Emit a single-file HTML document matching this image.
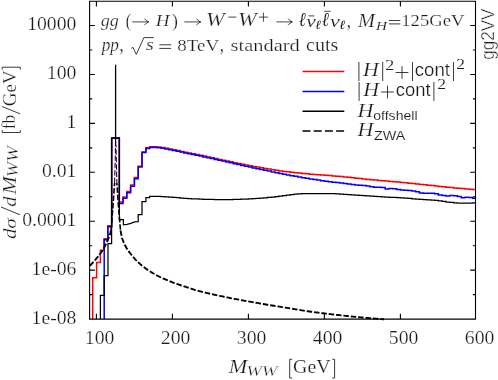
<!DOCTYPE html>
<html><head><meta charset="utf-8"><title>gg2VV plot</title>
<style>
html,body{margin:0;padding:0;background:#fff;}
body{width:498px;height:380px;overflow:hidden;font-family:"Liberation Serif",serif;}
svg{display:block;will-change:transform;}
text{fill:#1a1a1a;stroke:#fff;stroke-width:0.24px;}
</style></head><body>
<svg width="498" height="380" viewBox="0 0 498 380">
<rect width="498" height="380" fill="#fff"/>
<g fill="none" stroke-linejoin="miter" stroke-linecap="butt">
<path d="M92.70 319.10 L92.70 319.10 L92.70 277.70 L96.60 277.70 L96.60 262.40 L100.40 262.40 L100.40 250.20 L104.10 250.20 L104.10 238.80 L107.90 238.80 L107.90 225.80 L111.68 225.80 L111.68 138.10 L119.32 138.10 L119.32 202.00 L123.00 202.00 L123.00 197.00 L126.80 197.00 L126.80 191.50 L130.60 191.50 L130.60 185.00 L134.40 185.00 L134.40 177.60 L138.20 177.60 L138.20 166.20 L142.00 166.20 L142.00 151.90 L145.90 151.90 L145.90 147.80 L149.60 147.80 L149.60 147.00 L149.60 146.87 L153.40 146.87 L153.40 146.81 L157.20 146.81 L157.20 147.10 L161.00 147.10 L161.00 147.60 L164.80 147.60 L164.80 148.34 L168.60 148.34 L168.60 149.10 L172.40 149.10 L172.40 149.85 L176.20 149.85 L176.20 150.62 L180.00 150.62 L180.00 151.38 L183.80 151.38 L183.80 152.13 L187.60 152.13 L187.60 152.90 L191.40 152.90 L191.40 153.68 L195.20 153.68 L195.20 154.48 L199.00 154.48 L199.00 155.29 L202.80 155.29 L202.80 156.10 L206.60 156.10 L206.60 156.92 L210.40 156.92 L210.40 157.75 L214.20 157.75 L214.20 158.57 L218.00 158.57 L218.00 159.38 L221.80 159.38 L221.80 160.19 L225.60 160.19 L225.60 161.02 L229.40 161.02 L229.40 161.84 L233.20 161.84 L233.20 162.66 L237.00 162.66 L237.00 163.47 L240.80 163.47 L240.80 164.26 L244.60 164.26 L244.60 165.03 L248.40 165.03 L248.40 165.76 L252.20 165.76 L252.20 166.45 L256.00 166.45 L256.00 167.10 L259.80 167.10 L259.80 167.74 L263.60 167.74 L263.60 168.39 L267.40 168.39 L267.40 169.05 L271.20 169.05 L271.20 169.71 L275.00 169.71 L275.00 170.34 L278.80 170.34 L278.80 170.90 L282.60 170.90 L282.60 171.39 L286.40 171.39 L286.40 171.85 L290.20 171.85 L290.20 172.28 L294.00 172.28 L294.00 172.70 L297.80 172.70 L297.80 173.10 L301.60 173.10 L301.60 173.49 L305.40 173.49 L305.40 173.86 L309.20 173.86 L309.20 174.20 L313.00 174.20 L313.00 174.51 L316.80 174.51 L316.80 174.79 L320.60 174.79 L320.60 175.07 L324.40 175.07 L324.40 175.34 L328.20 175.34 L328.20 175.61 L332.00 175.61 L332.00 175.90 L335.80 175.90 L335.80 176.20 L339.60 176.20 L339.60 176.54 L343.40 176.54 L343.40 176.91 L347.20 176.91 L347.20 177.31 L351.00 177.31 L351.00 177.74 L354.80 177.74 L354.80 178.17 L358.60 178.17 L358.60 178.60 L362.40 178.60 L362.40 179.02 L366.20 179.02 L366.20 179.41 L370.00 179.41 L370.00 179.78 L373.80 179.78 L373.80 180.12 L377.60 180.12 L377.60 180.45 L381.40 180.45 L381.40 180.76 L385.20 180.76 L385.20 181.08 L389.00 181.08 L389.00 181.39 L392.80 181.39 L392.80 181.72 L396.60 181.72 L396.60 182.06 L400.40 182.06 L400.40 182.42 L404.20 182.42 L404.20 182.79 L408.00 182.79 L408.00 183.18 L411.80 183.18 L411.80 183.58 L415.60 183.58 L415.60 183.98 L419.40 183.98 L419.40 184.38 L423.20 184.38 L423.20 184.79 L427.00 184.79 L427.00 185.19 L430.80 185.19 L430.80 185.58 L434.60 185.58 L434.60 185.99 L438.40 185.99 L438.40 186.40 L442.20 186.40 L442.20 186.81 L446.00 186.81 L446.00 187.20 L449.80 187.20 L449.80 187.57 L453.60 187.57 L453.60 187.92 L457.40 187.92 L457.40 188.27 L461.20 188.27 L461.20 188.60 L465.00 188.60 L465.00 188.92 L468.80 188.92 L468.80 189.23 L472.60 189.23 L472.60 189.49 L475.50 189.49" stroke="#ff0000" stroke-width="1.5"/>
<path d="M104.20 319.10 L104.20 319.10 L104.20 239.70 L107.90 239.70 L107.90 226.80 L111.68 226.80 L111.68 138.10 L119.32 138.10 L119.32 203.40 L123.00 203.40 L123.00 198.30 L126.80 198.30 L126.80 192.80 L130.60 192.80 L130.60 186.20 L134.40 186.20 L134.40 178.70 L138.20 178.70 L138.20 166.90 L142.00 166.90 L142.00 152.60 L145.90 152.60 L145.90 148.50 L149.60 148.50 L149.60 147.70 L149.60 147.57 L153.40 147.57 L153.40 147.51 L157.20 147.51 L157.20 147.80 L161.00 147.80 L161.00 148.30 L164.80 148.30 L164.80 149.04 L168.60 149.04 L168.60 149.80 L172.40 149.80 L172.40 150.54 L176.20 150.54 L176.20 151.31 L180.00 151.31 L180.00 152.09 L183.80 152.09 L183.80 152.89 L187.60 152.89 L187.60 153.69 L191.40 153.69 L191.40 154.49 L195.20 154.49 L195.20 155.28 L199.00 155.28 L199.00 156.09 L202.80 156.09 L202.80 156.92 L206.60 156.92 L206.60 157.75 L210.40 157.75 L210.40 158.59 L214.20 158.59 L214.20 159.43 L218.00 159.43 L218.00 160.28 L221.80 160.28 L221.80 161.12 L225.60 161.12 L225.60 161.98 L229.40 161.98 L229.40 162.83 L233.20 162.83 L233.20 163.69 L237.00 163.69 L237.00 164.54 L240.80 164.54 L240.80 165.39 L244.60 165.39 L244.60 166.23 L248.40 166.23 L248.40 167.07 L252.20 167.07 L252.20 167.89 L256.00 167.89 L256.00 168.70 L259.80 168.70 L259.80 169.51 L263.60 169.51 L263.60 170.30 L267.40 170.30 L267.40 171.10 L271.20 171.10 L271.20 171.89 L275.00 171.89 L275.00 172.67 L278.80 172.67 L278.80 173.44 L282.60 173.44 L282.60 174.19 L286.40 174.19 L286.40 174.94 L290.20 174.94 L290.20 175.66 L294.00 175.66 L294.00 176.36 L297.80 176.36 L297.80 177.05 L301.60 177.05 L301.60 177.72 L305.40 177.72 L305.40 178.36 L309.20 178.36 L309.20 178.97 L313.00 178.97 L313.00 179.56 L316.80 179.56 L316.80 180.12 L320.60 180.12 L320.60 180.66 L324.40 180.66 L324.40 181.18 L328.20 181.18 L328.20 181.67 L332.00 181.67 L332.00 182.15 L335.80 182.15 L335.80 182.62 L339.60 182.62 L339.60 183.08 L343.40 183.08 L343.40 183.55 L347.20 183.55 L347.20 184.01 L351.00 184.01 L351.00 184.46 L354.80 184.46 L354.80 184.88 L358.60 184.88 L358.60 185.23 L362.40 185.23 L362.40 185.58 L366.20 185.58 L366.20 186.02 L370.00 186.02 L370.00 186.84 L373.80 186.84 L373.80 187.33 L377.60 187.33 L377.60 187.35 L381.40 187.35 L381.40 187.44 L385.20 187.44 L385.20 189.03 L389.00 189.03 L389.00 188.42 L392.80 188.42 L392.80 188.85 L396.60 188.85 L396.60 189.49 L400.40 189.49 L400.40 189.94 L404.20 189.94 L404.20 190.26 L408.00 190.26 L408.00 190.57 L411.80 190.57 L411.80 190.98 L415.60 190.98 L415.60 191.63 L419.40 191.63 L419.40 193.02 L423.20 193.02 L423.20 193.16 L427.00 193.16 L427.00 193.20 L430.80 193.20 L430.80 193.27 L434.60 193.27 L434.60 193.67 L438.40 193.67 L438.40 195.04 L442.20 195.04 L442.20 195.60 L446.00 195.60 L446.00 195.88 L449.80 195.88 L449.80 195.41 L453.60 195.41 L453.60 195.63 L457.40 195.63 L457.40 196.52 L461.20 196.52 L461.20 197.65 L465.00 197.65 L465.00 197.30 L468.80 197.30 L468.80 197.57 L472.60 197.57 L472.60 198.27 L475.50 198.27" stroke="#0000ff" stroke-width="1.5"/>
<path d="M100.40 319.10 L100.40 319.10 L100.40 295.40 L104.20 295.40 L104.20 275.60 L108.00 275.60 L108.00 243.60 L111.60 243.60 L111.60 138.10 L119.40 138.10 L119.40 219.50 L123.40 219.50 L123.40 224.80 L127.00 224.30 L130.80 223.30 L134.60 221.90 L138.20 221.70 L138.20 214.70 L142.00 214.70 L142.00 201.70 L145.90 201.70 L145.90 197.70 L149.60 197.70 L149.60 196.40 L149.60 196.33 L153.40 196.33 L153.40 196.32 L157.20 196.32 L157.20 196.47 L161.00 196.47 L161.00 196.66 L164.80 196.66 L164.80 196.90 L168.60 196.90 L168.60 197.18 L172.40 197.18 L172.40 197.45 L176.20 197.45 L176.20 197.72 L180.00 197.72 L180.00 198.02 L183.80 198.02 L183.80 198.31 L187.60 198.31 L187.60 198.59 L191.40 198.59 L191.40 198.82 L195.20 198.82 L195.20 198.99 L199.00 198.99 L199.00 199.14 L202.80 199.14 L202.80 199.27 L206.60 199.27 L206.60 199.37 L210.40 199.37 L210.40 199.45 L214.20 199.45 L214.20 199.52 L218.00 199.52 L218.00 199.58 L221.80 199.58 L221.80 199.60 L225.60 199.60 L225.60 199.58 L229.40 199.58 L229.40 199.52 L233.20 199.52 L233.20 199.43 L237.00 199.43 L237.00 199.33 L240.80 199.33 L240.80 199.21 L244.60 199.21 L244.60 199.06 L248.40 199.06 L248.40 198.86 L252.20 198.86 L252.20 198.63 L256.00 198.63 L256.00 198.38 L259.80 198.38 L259.80 198.12 L263.60 198.12 L263.60 197.83 L267.40 197.83 L267.40 197.48 L271.20 197.48 L271.20 197.10 L275.00 197.10 L275.00 196.68 L278.80 196.68 L278.80 196.20 L282.60 196.20 L282.60 195.70 L286.40 195.70 L286.40 195.17 L290.20 195.17 L290.20 194.57 L294.00 194.57 L294.00 194.07 L297.80 194.07 L297.80 193.81 L301.60 193.81 L301.60 193.64 L305.40 193.64 L305.40 193.53 L309.20 193.53 L309.20 193.50 L313.00 193.50 L313.00 193.50 L316.80 193.50 L316.80 193.50 L320.60 193.50 L320.60 193.50 L324.40 193.50 L324.40 193.53 L328.20 193.53 L328.20 193.59 L332.00 193.59 L332.00 193.67 L335.80 193.67 L335.80 193.81 L339.60 193.81 L339.60 194.06 L343.40 194.06 L343.40 194.32 L347.20 194.32 L347.20 194.58 L351.00 194.58 L351.00 194.86 L354.80 194.86 L354.80 195.14 L358.60 195.14 L358.60 195.43 L362.40 195.43 L362.40 195.71 L366.20 195.71 L366.20 195.98 L370.00 195.98 L370.00 196.22 L373.80 196.22 L373.80 196.44 L377.60 196.44 L377.60 196.65 L381.40 196.65 L381.40 196.86 L385.20 196.86 L385.20 197.06 L389.00 197.06 L389.00 197.27 L392.80 197.27 L392.80 197.48 L396.60 197.48 L396.60 197.71 L400.40 197.71 L400.40 197.95 L404.20 197.95 L404.20 198.21 L408.00 198.21 L408.00 198.48 L411.80 198.48 L411.80 198.75 L415.60 198.75 L415.60 199.04 L419.40 199.04 L419.40 199.33 L423.20 199.33 L423.20 199.62 L427.00 199.62 L427.00 199.92 L430.80 199.92 L430.80 200.20 L434.60 200.20 L434.60 200.48 L438.40 200.48 L438.40 200.83 L442.20 200.83 L442.20 201.39 L446.00 201.39 L446.00 202.02 L449.80 202.02 L449.80 202.48 L453.60 202.48 L453.60 202.85 L457.40 202.85 L457.40 203.05 L461.20 203.05 L461.20 203.18 L465.00 203.18 L465.00 203.19 L468.80 203.19 L468.80 203.08 L472.60 203.08 L472.60 202.90 L475.50 202.90" stroke="#000" stroke-width="1.25"/>
<path d="M111.00 230.50 L112.30 215.00 L113.40 200.00 L114.60 183.00" stroke="#000" stroke-width="1.6" stroke-dasharray="5.5 1.9"/>
<path d="M116.90 183.00 L118.00 200.00 L119.20 215.00 L120.50 230.50" stroke="#000" stroke-width="1.6" stroke-dasharray="5.5 1.9" stroke-dashoffset="3"/>
<path d="M114.60 183.00 L115.20 160.00 L115.50 145.00" stroke="#000" stroke-width="1.0" stroke-dasharray="5.5 1.9"/>
<path d="M116.00 145.00 L116.30 160.00 L116.90 183.00" stroke="#000" stroke-width="1.0" stroke-dasharray="5.5 1.9" stroke-dashoffset="3"/>
<path d="M89.70 265.90 L90.50 265.09 L91.30 264.27 L92.10 263.42 L92.90 262.55 L93.70 261.66 L94.50 260.76 L95.30 259.84 L96.10 258.90 L96.90 257.94 L97.70 256.96 L98.50 255.95 L99.30 254.90 L100.10 253.83 L100.90 252.73 L101.70 251.59 L102.50 250.39 L103.30 249.11 L104.10 247.71 L104.90 246.19 L105.70 244.57 L106.50 242.86 L107.30 241.10 L108.10 239.33 L108.90 237.46 L109.70 235.30 L110.50 232.53 L111.00 230.50" stroke="#000" stroke-width="1.85" stroke-dasharray="5.5 1.9"/>
<path d="M120.50 230.50 L122.00 238.00 L123.50 242.00 L125.00 245.29 L126.50 248.00 L128.00 250.29 L129.50 252.34 L131.00 254.30 L132.50 256.17 L134.00 257.92 L135.50 259.56 L137.00 261.09 L138.50 262.54 L140.00 263.90 L141.50 265.19 L143.00 266.41 L144.50 267.57 L146.00 268.67 L147.50 269.72 L149.00 270.72 L150.50 271.68 L152.00 272.60 L153.50 273.49 L155.00 274.35 L156.50 275.19 L158.00 275.99 L159.50 276.75 L161.00 277.48 L162.50 278.16 L164.00 278.82 L165.50 279.46 L167.00 280.09 L168.50 280.71 L170.00 281.32 L171.50 281.93 L173.00 282.53 L174.50 283.11 L176.00 283.67 L177.50 284.21 L179.00 284.74 L180.50 285.25 L182.00 285.75 L183.50 286.24 L185.00 286.72 L186.50 287.20 L188.00 287.67 L189.50 288.14 L191.00 288.61 L192.50 289.08 L194.00 289.55 L195.50 290.01 L197.00 290.45 L198.50 290.88 L200.00 291.29 L201.50 291.68 L203.00 292.06 L204.50 292.43 L206.00 292.79 L207.50 293.14 L209.00 293.49 L210.50 293.83 L212.00 294.17 L213.50 294.51 L215.00 294.85 L216.50 295.18 L218.00 295.51 L219.50 295.83 L221.00 296.15 L222.50 296.47 L224.00 296.78 L225.50 297.09 L227.00 297.40 L228.50 297.70 L230.00 298.00 L231.50 298.29 L233.00 298.58 L234.50 298.87 L236.00 299.15 L237.50 299.43 L239.00 299.71 L240.50 299.99 L242.00 300.27 L243.50 300.55 L245.00 300.83 L246.50 301.11 L248.00 301.38 L249.50 301.65 L251.00 301.92 L252.50 302.19 L254.00 302.45 L255.50 302.71 L257.00 302.96 L258.50 303.21 L260.00 303.47 L261.50 303.72 L263.00 303.97 L264.50 304.22 L266.00 304.47 L267.50 304.72 L269.00 304.97 L270.50 305.22 L272.00 305.47 L273.50 305.72 L275.00 305.96 L276.50 306.21 L278.00 306.46 L279.50 306.70 L281.00 306.95 L282.50 307.19 L284.00 307.43 L285.50 307.68 L287.00 307.92 L288.50 308.16 L290.00 308.40 L291.50 308.64 L293.00 308.88 L294.50 309.12 L296.00 309.36 L297.50 309.60 L299.00 309.85 L300.50 310.09 L302.00 310.34 L303.50 310.58 L305.00 310.82 L306.50 311.05 L308.00 311.28 L309.50 311.50 L311.00 311.71 L312.50 311.92 L314.00 312.12 L315.50 312.32 L317.00 312.51 L318.50 312.70 L320.00 312.89 L321.50 313.07 L323.00 313.26 L324.50 313.44 L326.00 313.62 L327.50 313.80 L329.00 313.99 L330.50 314.17 L332.00 314.34 L333.50 314.52 L335.00 314.69 L336.50 314.86 L338.00 315.03 L339.50 315.20 L341.00 315.37 L342.50 315.53 L344.00 315.69 L345.50 315.85 L347.00 316.01 L348.50 316.17 L350.00 316.32 L351.50 316.47 L353.00 316.63 L354.50 316.78 L356.00 316.92 L357.50 317.07 L359.00 317.21 L360.50 317.35 L362.00 317.48 L363.50 317.62 L365.00 317.75 L366.50 317.89 L368.00 318.02 L369.50 318.15 L371.00 318.27 L372.50 318.40 L374.00 318.52 L375.50 318.65 L377.00 318.77 L378.50 318.88 L380.00 319.00 L381.50 319.11 L383.00 319.23 L384.00 319.30" stroke="#000" stroke-width="1.85" stroke-dasharray="5.5 1.9"/>
<path d="M115.6 64.7 V146" stroke="#000" stroke-width="1.3"/>
</g>
<path d="M89.60 1.20 H475.50 V319.10 H89.60 Z M89.60 319.10 h5.30 M475.50 319.10 h-5.30 M89.60 294.63 h2.60 M475.50 294.63 h-2.60 M89.60 270.17 h5.30 M475.50 270.17 h-5.30 M89.60 245.70 h2.60 M475.50 245.70 h-2.60 M89.60 221.23 h5.30 M475.50 221.23 h-5.30 M89.60 196.77 h2.60 M475.50 196.77 h-2.60 M89.60 172.30 h5.30 M475.50 172.30 h-5.30 M89.60 147.83 h2.60 M475.50 147.83 h-2.60 M89.60 123.36 h5.30 M475.50 123.36 h-5.30 M89.60 98.90 h2.60 M475.50 98.90 h-2.60 M89.60 74.43 h5.30 M475.50 74.43 h-5.30 M89.60 49.96 h2.60 M475.50 49.96 h-2.60 M89.60 25.50 h5.30 M475.50 25.50 h-5.30 M96.40 319.10 v-5.30 M96.40 1.20 v5.30 M172.40 319.10 v-5.30 M172.40 1.20 v5.30 M248.40 319.10 v-5.30 M248.40 1.20 v5.30 M324.40 319.10 v-5.30 M324.40 1.20 v5.30 M400.40 319.10 v-5.30 M400.40 1.20 v5.30" fill="none" stroke="#000" stroke-width="1.1"/>
<path d="M302.5 71.6 H344.3" stroke="#f00" stroke-width="1.5"/>
<path d="M302.5 91.4 H344.3" stroke="#00f" stroke-width="1.5"/>
<path d="M302.5 111.2 H344.3" stroke="#000" stroke-width="1.5"/>
<path d="M302.5 131.1 H344.3" stroke="#000" stroke-width="1.5" stroke-dasharray="8 3.2"/>
<text x="76.40" y="30.45" text-anchor="end" style="font-family:'Liberation Serif',serif;font-size:19.70px;stroke-width:0.24px">10000</text>
<text x="76.40" y="79.38" text-anchor="end" style="font-family:'Liberation Serif',serif;font-size:19.70px;stroke-width:0.24px">100</text>
<text x="76.40" y="128.31" text-anchor="end" style="font-family:'Liberation Serif',serif;font-size:19.70px;stroke-width:0.24px">1</text>
<text x="76.40" y="177.25" text-anchor="end" style="font-family:'Liberation Serif',serif;font-size:19.70px;stroke-width:0.24px">0.01</text>
<text x="76.40" y="226.18" text-anchor="end" style="font-family:'Liberation Serif',serif;font-size:19.70px;stroke-width:0.24px">0.0001</text>
<text x="76.40" y="275.12" text-anchor="end" style="font-family:'Liberation Serif',serif;font-size:19.70px;stroke-width:0.24px">1e-06</text>
<text x="76.40" y="324.05" text-anchor="end" style="font-family:'Liberation Serif',serif;font-size:19.70px;stroke-width:0.24px">1e-08</text>
<text x="99.60" y="344.40" text-anchor="middle" style="font-family:'Liberation Serif',serif;font-size:19.70px;stroke-width:0.24px">100</text>
<text x="175.60" y="344.40" text-anchor="middle" style="font-family:'Liberation Serif',serif;font-size:19.70px;stroke-width:0.24px">200</text>
<text x="251.60" y="344.40" text-anchor="middle" style="font-family:'Liberation Serif',serif;font-size:19.70px;stroke-width:0.24px">300</text>
<text x="327.60" y="344.40" text-anchor="middle" style="font-family:'Liberation Serif',serif;font-size:19.70px;stroke-width:0.24px">400</text>
<text x="403.60" y="344.40" text-anchor="middle" style="font-family:'Liberation Serif',serif;font-size:19.70px;stroke-width:0.24px">500</text>
<text x="479.60" y="344.40" text-anchor="middle" style="font-family:'Liberation Serif',serif;font-size:19.70px;stroke-width:0.24px">600</text>
<text transform="translate(100.75 26.40) scale(1.054 1)" style="font-family:'Liberation Serif',serif;font-size:17.16px;font-style:italic;stroke-width:0.24px">gg</text>
<text transform="translate(125.63 26.90) scale(0.800 1)" style="font-family:'Liberation Serif',serif;font-size:19.88px;stroke-width:0.24px">(</text>
<text transform="translate(155.76 26.30) scale(1.097 1)" style="font-family:'Liberation Serif',serif;font-size:17.37px;font-style:italic;stroke-width:0.24px">H</text>
<text transform="translate(172.08 26.90) scale(0.894 1)" style="font-family:'Liberation Serif',serif;font-size:19.88px;stroke-width:0.24px">)</text>
<text transform="translate(205.95 26.25) scale(1.197 1)" style="font-family:'Liberation Serif',serif;font-size:18.73px;font-style:italic;stroke-width:0.24px">W</text>
<text transform="translate(237.95 26.25) scale(1.197 1)" style="font-family:'Liberation Serif',serif;font-size:18.73px;font-style:italic;stroke-width:0.24px">W</text>
<text transform="translate(298.76 26.25) scale(0.865 1)" style="font-family:'Liberation Serif',serif;font-size:19.48px;font-style:italic;stroke-width:0.08px">ℓ</text>
<text transform="translate(306.14 26.50) scale(1.240 1)" style="font-family:'Liberation Serif',serif;font-size:17.45px;font-style:italic;stroke-width:0.15px">ν</text>
<text transform="translate(315.13 28.70) scale(1.102 1)" style="font-family:'Liberation Serif',serif;font-size:12.48px;font-style:italic;stroke-width:0.00px">ℓ</text>
<text transform="translate(321.66 26.25) scale(0.888 1)" style="font-family:'Liberation Serif',serif;font-size:19.48px;font-style:italic;stroke-width:0.08px">ℓ</text>
<text transform="translate(330.04 26.50) scale(1.280 1)" style="font-family:'Liberation Serif',serif;font-size:17.45px;font-style:italic;stroke-width:0.15px">ν</text>
<text transform="translate(339.23 28.70) scale(1.176 1)" style="font-family:'Liberation Serif',serif;font-size:12.48px;font-style:italic;stroke-width:0.00px">ℓ</text>
<text transform="translate(346.85 26.55) scale(0.800 1)" style="font-family:'Liberation Serif',serif;font-size:21.29px;stroke-width:0.24px">,</text>
<text transform="translate(357.98 26.50) scale(1.138 1)" style="font-family:'Liberation Serif',serif;font-size:17.91px;font-style:italic;stroke-width:0.24px">M</text>
<text transform="translate(375.93 29.70) scale(1.245 1)" style="font-family:'Liberation Serif',serif;font-size:12.24px;font-style:italic;stroke-width:0.12px">H</text>
<text transform="translate(401.25 26.25) scale(1.090 1)" style="font-family:'Liberation Serif',serif;font-size:17.12px;stroke-width:0.24px">125GeV</text>
<path d="M132.30 21.90 H148.60 M144.50 18.60 q1.6 2.5 4.3 3.3 q-2.7 0.8 -4.3 3.3" fill="none" stroke="#1a1a1a" stroke-width="0.80"/>
<path d="M184.30 21.90 H200.60 M196.50 18.60 q1.6 2.5 4.3 3.3 q-2.7 0.8 -4.3 3.3" fill="none" stroke="#1a1a1a" stroke-width="0.80"/>
<path d="M276.40 21.90 H292.20 M288.10 18.60 q1.6 2.5 4.3 3.3 q-2.7 0.8 -4.3 3.3" fill="none" stroke="#1a1a1a" stroke-width="0.80"/>
<path d="M228.3 17.1 H236.3" fill="none" stroke="#1a1a1a" stroke-width="0.80"/>
<path d="M258.90 17.10 h9.00 M263.40 12.60 v9.00" fill="none" stroke="#1a1a1a" stroke-width="0.80"/>
<path d="M308.4 15.9 H314.4" fill="none" stroke="#1a1a1a" stroke-width="0.80"/>
<path d="M324.2 11.3 H330.6" fill="none" stroke="#1a1a1a" stroke-width="0.80"/>
<path d="M388.90 20.50 H400.30 M388.90 23.90 H400.30" fill="none" stroke="#1a1a1a" stroke-width="0.85"/>
<text transform="translate(101.65 50.65) scale(0.974 1)" style="font-family:'Liberation Serif',serif;font-size:17.84px;font-style:italic;stroke-width:0.24px">pp</text>
<text transform="translate(119.55 51.00) scale(0.818 1)" style="font-family:'Liberation Serif',serif;font-size:20.63px;stroke-width:0.24px">,</text>
<text transform="translate(145.75 50.45) scale(1.328 1)" style="font-family:'Liberation Serif',serif;font-size:15.90px;font-style:italic;stroke-width:0.24px">s</text>
<text transform="translate(177.35 50.65) scale(1.157 1)" style="font-family:'Liberation Serif',serif;font-size:16.37px;stroke-width:0.24px">8TeV</text>
<text transform="translate(219.85 51.00) scale(0.818 1)" style="font-family:'Liberation Serif',serif;font-size:20.63px;stroke-width:0.24px">,</text>
<text transform="translate(230.55 50.65) scale(1.212 1)" style="font-family:'Liberation Serif',serif;font-size:16.86px;stroke-width:0.24px">standard</text>
<text transform="translate(305.95 50.65) scale(1.114 1)" style="font-family:'Liberation Serif',serif;font-size:18.08px;stroke-width:0.24px">cuts</text>
<path d="M131.3 48.3 l1.7 -0.9 l3.3 7.0 l7.6 -16.8 H153.9" fill="none" stroke="#1a1a1a" stroke-width="0.85"/>
<path d="M159.30 44.80 H171.20 M159.30 48.40 H171.20" fill="none" stroke="#1a1a1a" stroke-width="0.85"/>
<text transform="translate(363.07 76.40) scale(1.137 1)" style="font-family:'Liberation Serif',serif;font-size:19.26px;font-style:italic;stroke-width:0.24px">H</text>
<text transform="translate(385.31 69.70) scale(1.267 1)" style="font-family:'Liberation Serif',serif;font-size:14.25px;stroke-width:0.12px">2</text>
<text transform="translate(414.75 76.35) scale(1.044 1)" style="font-family:'Liberation Sans',sans-serif;font-size:17.83px;stroke-width:0.24px">cont</text>
<text transform="translate(456.21 69.40) scale(1.210 1)" style="font-family:'Liberation Serif',serif;font-size:14.50px;stroke-width:0.12px">2</text>
<text transform="translate(363.17 96.20) scale(1.137 1)" style="font-family:'Liberation Serif',serif;font-size:19.26px;font-style:italic;stroke-width:0.24px">H</text>
<text transform="translate(395.75 96.25) scale(1.035 1)" style="font-family:'Liberation Sans',sans-serif;font-size:17.83px;stroke-width:0.24px">cont</text>
<text transform="translate(437.31 89.40) scale(1.210 1)" style="font-family:'Liberation Serif',serif;font-size:14.50px;stroke-width:0.12px">2</text>
<text transform="translate(357.57 116.50) scale(1.128 1)" style="font-family:'Liberation Serif',serif;font-size:19.50px;font-style:italic;stroke-width:0.24px">H</text>
<text transform="translate(373.20 119.90) scale(1.055 1)" style="font-family:'Liberation Sans',sans-serif;font-size:13.35px;stroke-width:0.12px">offshell</text>
<text transform="translate(357.57 136.30) scale(1.128 1)" style="font-family:'Liberation Serif',serif;font-size:19.50px;font-style:italic;stroke-width:0.24px">H</text>
<text transform="translate(373.90 139.80) scale(1.119 1)" style="font-family:'Liberation Sans',sans-serif;font-size:12.80px;stroke-width:0.12px">ZWA</text>
<path d="M358.90 62.00 V81.00" fill="none" stroke="#1a1a1a" stroke-width="0.85"/>
<path d="M382.70 62.00 V81.00" fill="none" stroke="#1a1a1a" stroke-width="0.85"/>
<path d="M412.50 62.00 V81.00" fill="none" stroke="#1a1a1a" stroke-width="0.85"/>
<path d="M453.50 62.00 V81.00" fill="none" stroke="#1a1a1a" stroke-width="0.85"/>
<path d="M395.60 72.50 h12.80 M402.00 66.10 v12.80" fill="none" stroke="#1a1a1a" stroke-width="0.85"/>
<path d="M359.10 81.90 V100.90" fill="none" stroke="#1a1a1a" stroke-width="0.85"/>
<path d="M433.90 81.90 V100.90" fill="none" stroke="#1a1a1a" stroke-width="0.85"/>
<path d="M381.10 92.00 h12.80 M387.50 85.60 v12.80" fill="none" stroke="#1a1a1a" stroke-width="0.85"/>
<text transform="translate(228.69 372.90) scale(1.135 1)" style="font-family:'Liberation Serif',serif;font-size:19.62px;font-style:italic;stroke-width:0.24px">M</text>
<text transform="translate(246.13 375.75) scale(1.286 1)" style="font-family:'Liberation Serif',serif;font-size:14.89px;font-style:italic;stroke-width:0.30px">W</text>
<text transform="translate(261.73 375.75) scale(1.274 1)" style="font-family:'Liberation Serif',serif;font-size:14.89px;font-style:italic;stroke-width:0.30px">W</text>
<text transform="translate(293.05 372.95) scale(1.038 1)" style="font-family:'Liberation Serif',serif;font-size:19.13px;stroke-width:0.24px">GeV</text>
<path d="M292.10 359.30 h-2.40 v18.70 h2.40" fill="none" stroke="#1a1a1a" stroke-width="0.85"/>
<path d="M332.20 359.30 h2.40 v18.70 h-2.40" fill="none" stroke="#1a1a1a" stroke-width="0.85"/>
<g transform="translate(15.6 232.4) rotate(-90)">
<text transform="translate(-6.65 -0.05) scale(1.172 1)" style="font-family:'Liberation Serif',serif;font-size:17.85px;font-style:italic;stroke-width:0.24px">d</text>
<text transform="translate(3.69 0.20) scale(1.234 1)" style="font-family:'Liberation Serif',serif;font-size:17.40px;font-style:italic;stroke-width:0.24px">σ</text>
<text transform="translate(25.60 -0.05) scale(1.136 1)" style="font-family:'Liberation Serif',serif;font-size:17.85px;font-style:italic;stroke-width:0.24px">d</text>
<text transform="translate(37.89 0.10) scale(1.109 1)" style="font-family:'Liberation Serif',serif;font-size:19.86px;font-style:italic;stroke-width:0.24px">M</text>
<text transform="translate(55.26 2.65) scale(1.171 1)" style="font-family:'Liberation Serif',serif;font-size:15.76px;font-style:italic;stroke-width:0.30px">W</text>
<text transform="translate(70.76 2.65) scale(1.198 1)" style="font-family:'Liberation Serif',serif;font-size:15.76px;font-style:italic;stroke-width:0.30px">W</text>
<text transform="translate(103.10 -0.15) scale(0.971 1)" style="font-family:'Liberation Serif',serif;font-size:18.02px;stroke-width:0.24px">fb</text>
<text transform="translate(126.25 -0.05) scale(1.007 1)" style="font-family:'Liberation Serif',serif;font-size:18.91px;stroke-width:0.24px">GeV</text>
<path d="M17.6 4.5 L25.4 -14.6" fill="none" stroke="#1a1a1a" stroke-width="0.85"/>
<path d="M102.30 -13.40 h-2.40 v18.10 h2.40" fill="none" stroke="#1a1a1a" stroke-width="0.85"/>
<path d="M162.80 -13.40 h2.40 v18.10 h-2.40" fill="none" stroke="#1a1a1a" stroke-width="0.85"/>
<path d="M118.6 4.4 L125.9 -13.6" fill="none" stroke="#1a1a1a" stroke-width="0.85"/>
</g>
<g transform="translate(494.3 59.1) rotate(-90)">
<text transform="translate(-0.75 -0.15) scale(0.948 1)" style="font-family:'Liberation Sans',sans-serif;font-size:18.04px;stroke-width:0.45px">gg2VV</text>
</g>
</svg>
</body></html>
